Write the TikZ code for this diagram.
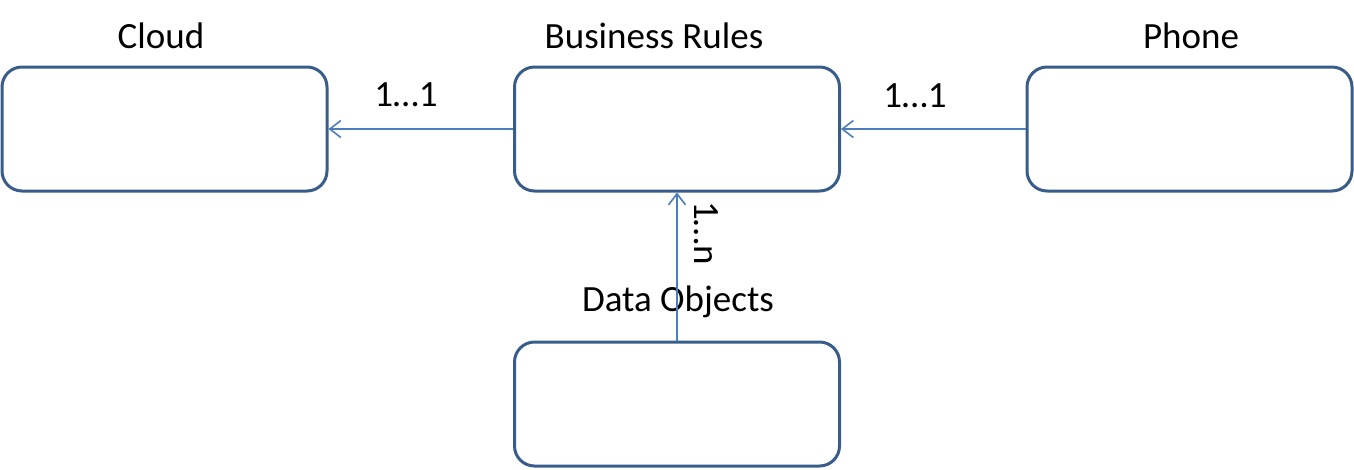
\documentclass[tikz,border=0pt]{standalone}
\usepackage{fontspec}
\setmainfont{Carlito}
\usetikzlibrary{arrows.meta}
\definecolor{boxblue}{HTML}{385D8A}
\definecolor{connblue}{HTML}{4A7EBB}
\tikzset{
  box/.style={draw=boxblue, line width=3pt, rounded corners=20pt, fill=white,
    minimum width=325pt, minimum height=124pt, inner sep=0pt},
  lbl/.style={anchor=base, inner sep=0pt, font=\fontsize{37}{44}\selectfont},
  conn/.style={draw=connblue, line width=1.6pt, -{Straight Barb[length=11pt,width=17pt,line width=1.6pt]}}
}
\begin{document}
\begin{tikzpicture}[x=1pt,y=-1pt]
\useasboundingbox (0,0) rectangle (1354,469);
\node[box] (cloud) at (164.5,129) {};
\node[box] (br) at (677,129) {};
\node[box] (phone) at (1189.5,129) {};
\node[box] (do) at (677,404) {};
\node[lbl] (tcloud) at (161,48) {Cloud};
\node[lbl] (tbr) at (654,48) {Business Rules};
\node[lbl] (tphone) at (1191,48) {Phone};
\node[lbl] (tdo) at (678,311) {Data Objects};
\draw[conn] (br.west) -- (cloud.east);
\draw[conn] (phone.west) -- (br.east);
\draw[conn] (do.north) -- (br.south);
\node[lbl] (l1) at (406,106) {1…1};
\node[lbl] (l2) at (915,107) {1…1};
\node[inner sep=0pt, font=\fontsize{37}{44}\selectfont, rotate=-90] (l3) at (706,233) {1…n};
\end{tikzpicture}
\end{document}
